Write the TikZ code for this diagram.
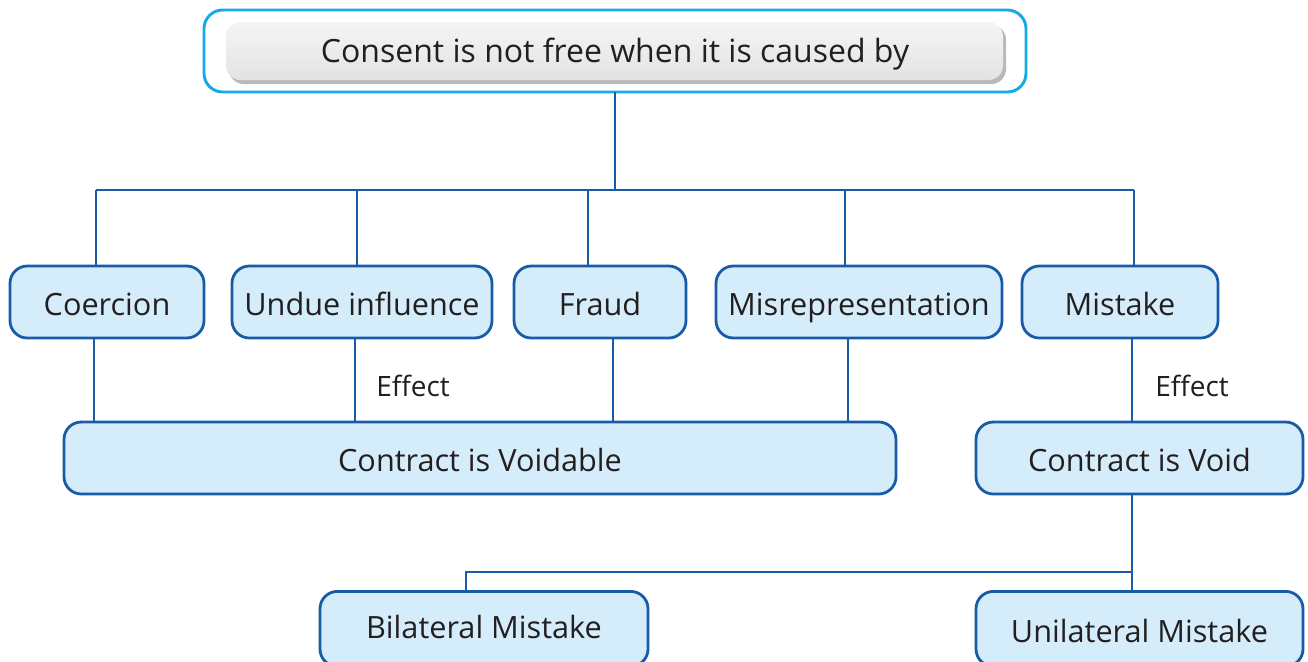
\documentclass[tikz,border=0pt]{standalone}
\usepackage{fontspec}
\setmainfont{Open Sans}
\usetikzlibrary{shadows}
\definecolor{lineblue}{RGB}{24,92,168}
\definecolor{boxfill}{RGB}{213,237,250}
\definecolor{outercyan}{RGB}{20,170,230}
\definecolor{txt}{RGB}{35,31,32}
\begin{document}
\begin{tikzpicture}[x=0.75pt,y=-0.75pt,
  conn/.style={draw=lineblue,line width=2.1pt},
  bluebox/.style={draw=lineblue,line width=2.1pt,fill=boxfill,rounded corners=13pt,text=txt,font=\fontsize{23}{27}\selectfont,text height=22pt,text depth=2pt},
  lbl/.style={text=txt,font=\fontsize{21}{25}\selectfont}]
\useasboundingbox (0,0) rectangle (1308,661);
% top
\draw[outercyan,line width=2.2pt,rounded corners=14pt] (204,10) rectangle (1026,92);
\fill[gray!55,rounded corners=11pt] (229,25) rectangle (1006,84);
\shade[top color=gray!8,bottom color=gray!22,rounded corners=11pt] (226,22) rectangle (1003,80);
\node[text=txt,font=\fontsize{24}{28}\selectfont] (top) at (615,54) {Consent is not free when it is caused by};
\coordinate (topb) at (615,92);
% row 1
\node[bluebox,minimum width=194*0.75pt,minimum height=72*0.75pt] (coe) at (107,302) {Coercion};
\node[bluebox,minimum width=260*0.75pt,minimum height=72*0.75pt] (und) at (362,302) {Undue influence};
\node[bluebox,minimum width=172*0.75pt,minimum height=72*0.75pt] (fra) at (600,302) {Fraud};
\node[bluebox,minimum width=286*0.75pt,minimum height=72*0.75pt] (mis) at (859,302) {Misrepresentation};
\node[bluebox,minimum width=196*0.75pt,minimum height=72*0.75pt] (mst) at (1120,302) {Mistake};
% row 2
\node[bluebox,minimum width=832*0.75pt,minimum height=72*0.75pt] (vda) at (480,458) {Contract is Voidable};
\node[bluebox,minimum width=327*0.75pt,minimum height=72*0.75pt] (vd) at (1139.5,458) {Contract is Void};
% row 3
\node[bluebox,minimum width=328*0.75pt,minimum height=75*0.75pt,anchor=north] (bil) at (484,590) {\raisebox{3pt}{Bilateral Mistake}};
\node[bluebox,minimum width=327*0.75pt,minimum height=75*0.75pt,anchor=north] (uni) at (1139.5,590) {Unilateral Mistake};
% labels
\node[lbl] (ef1) at (413,386) {Effect};
\node[lbl] (ef2) at (1192,386) {Effect};
% connectors
\coordinate (hl) at (96,190);
\coordinate (hr) at (1134,190);
\draw[conn] (topb) -- (615,190);
\draw[conn] (hl) -- (hr);
\draw[conn] (hl) -- (coe.north -| hl);
\draw[conn] (357,190) -- (und.north -| 357,0);
\draw[conn] (588,190) -- (fra.north -| 588,0);
\draw[conn] (845,190) -- (mis.north -| 845,0);
\draw[conn] (hr) -- (mst.north -| hr);
\draw[conn] (coe.south -| 94,0) -- (vda.north -| 94,0);
\draw[conn] (und.south -| 355,0) -- (vda.north -| 355,0);
\draw[conn] (fra.south -| 613,0) -- (vda.north -| 613,0);
\draw[conn] (mis.south -| 848,0) -- (vda.north -| 848,0);
\draw[conn] (mst.south -| 1132,0) -- (vd.north -| 1132,0);
\draw[conn] (vd.south -| 1132,0) -- (uni.north -| 1132,0);
\draw[conn] (1132,572) -- (466,572) -- (bil.north -| 466,0);
\end{tikzpicture}
\end{document}
